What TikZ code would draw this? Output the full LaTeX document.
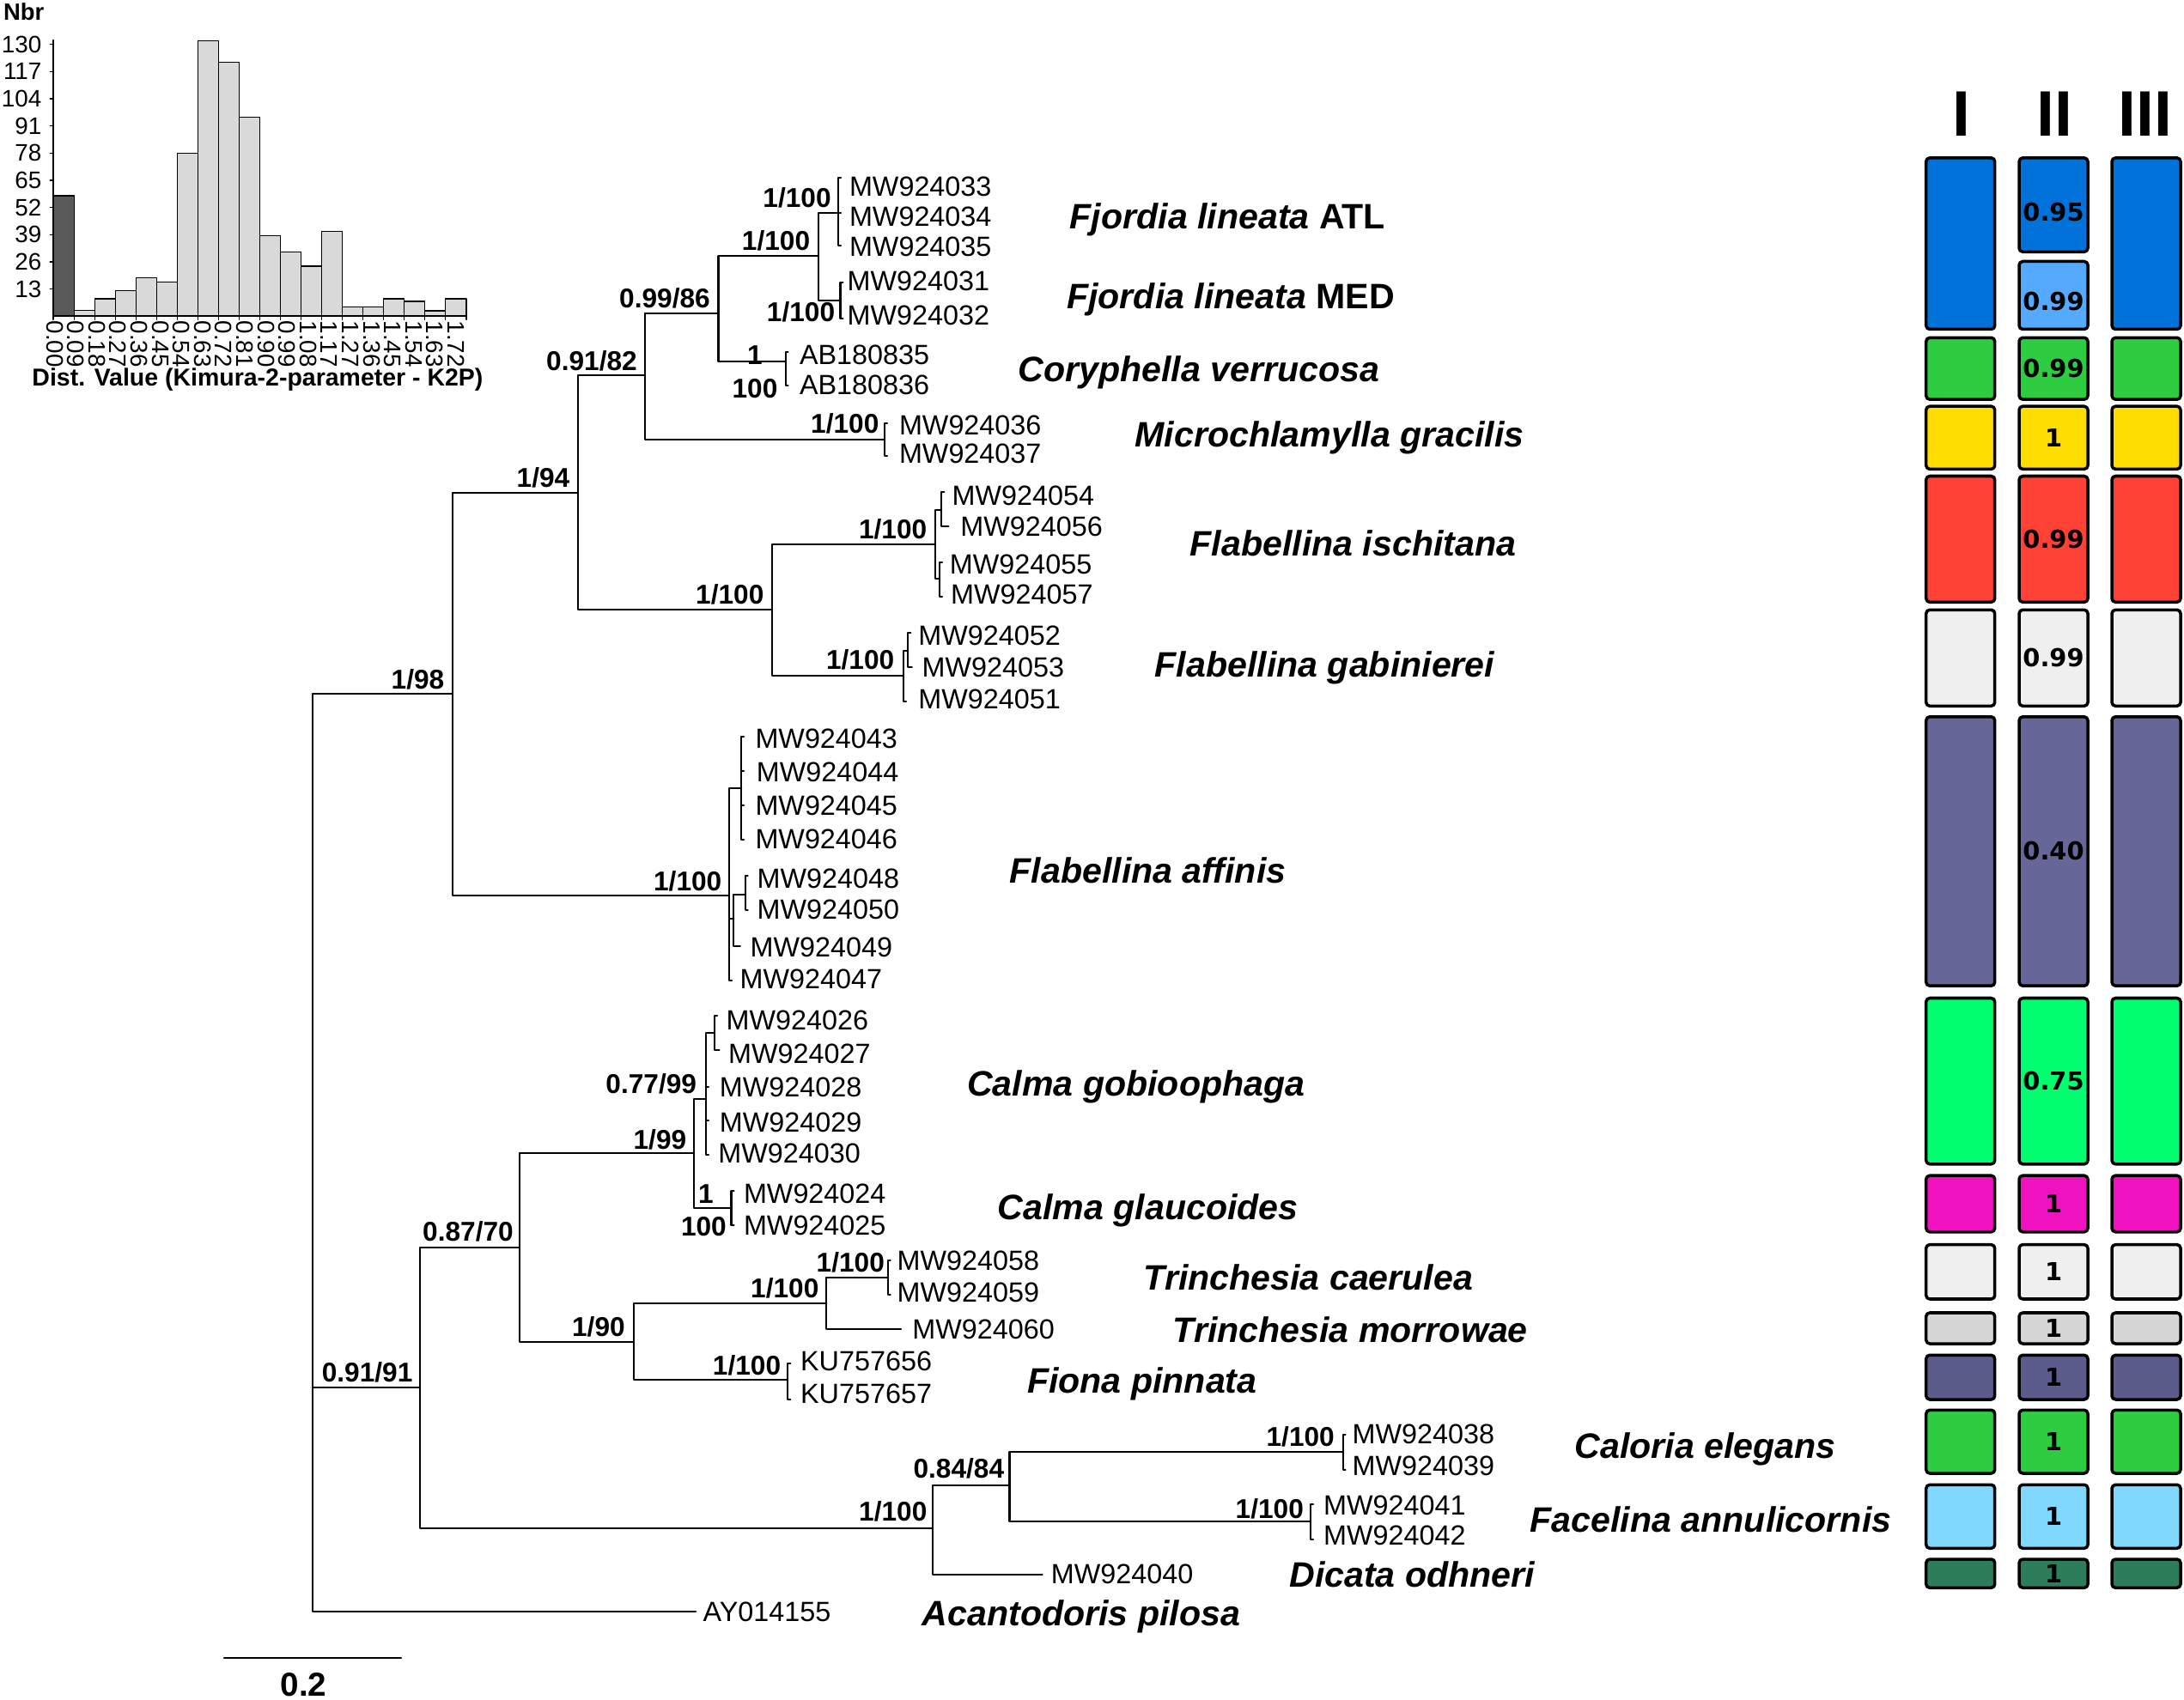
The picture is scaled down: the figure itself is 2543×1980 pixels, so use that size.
\documentclass[tikz,border=0pt]{standalone}
\usepackage{fontspec}
\setmainfont{Liberation Sans}
\newfontfamily\valfont{DejaVu Sans}
\definecolor{cfjo}{RGB}{0,114,218}
\definecolor{cmed}{RGB}{85,170,255}
\definecolor{cgrn}{RGB}{46,204,64}
\definecolor{cyel}{RGB}{255,221,0}
\definecolor{cred}{RGB}{255,65,54}
\definecolor{clgr}{RGB}{239,239,239}
\definecolor{cpur}{RGB}{102,102,153}
\definecolor{cbgr}{RGB}{0,255,110}
\definecolor{cmag}{RGB}{240,18,190}
\definecolor{cgry}{RGB}{214,214,214}
\definecolor{cfio}{RGB}{92,92,140}
\definecolor{clbl}{RGB}{128,216,255}
\definecolor{cdgr}{RGB}{45,125,90}
\definecolor{histlight}{RGB}{217,217,217}
\definecolor{histdark}{RGB}{90,90,90}
\begin{document}
\begin{tikzpicture}[x=0.01cm,y=-0.01cm,line join=round,line cap=round,
	br/.style={line width=0.6pt},
	acc/.style={anchor=west,inner sep=0pt,text height=6.6pt,text depth=0pt,font=\fontsize{9.2}{10}\selectfont},
	sup/.style={inner sep=0pt,text height=6.5pt,text depth=0pt,font=\fontsize{9}{10}\selectfont\bfseries},
	taxon/.style={anchor=west,inner sep=0pt,text height=8.4pt,text depth=0pt,font=\fontsize{11.7}{13}\selectfont\bfseries\itshape},
	box/.style={draw=black,line width=1pt,rounded corners=1.2pt},
	val/.style={inner sep=0pt,font=\valfont\fontsize{8.2}{9}\selectfont\bfseries},
	hbar/.style={draw=black,line width=0.4pt,fill=histlight},
	tick/.style={inner sep=0pt,font=\fontsize{7.9}{8}\selectfont}]
	\useasboundingbox (0,0) rectangle (2543,1980);
	% histogram
	\draw[hbar,fill=histdark] (62.2,368.3) rectangle ++(24.03,-140.3);
	\foreach \h [count=\i] in {6.7,20.3,30,44.7,40,190,321,296,232,94,75,58.3,99,10.7,10.7,20.3,17.3,6.3,20.3}
	\draw[hbar] ({62.2+\i*24.03},368.3) rectangle ++(24.03,-\h);
	\draw[line width=0.6pt] (62.2,47)--(62.2,368.3)--(542.7,368.3);
	\foreach \k/\v in {1/13,2/26,3/39,4/52,5/65,6/78,7/91,8/104,9/117,10/130}{
		\draw (62.2,{368.3-\k*31.67})--(58.2,{368.3-\k*31.67});
		\node[tick,anchor=east] (yt\k) at (49,{368.3-\k*31.67}) {\v};
	}
	\foreach \i in {0,...,20}
	\draw ({62.2+\i*24.03},368.3)--++(0,4);
	\foreach \lab [count=\i from 0] in {0.00,0.09,0.18,0.27,0.36,0.45,0.54,0.63,0.72,0.81,0.90,0.99,1.08,1.17,1.27,1.36,1.45,1.54,1.63,1.72}
	\node[tick,rotate=-90,anchor=west] (xt\i) at ({63.6+\i*24.6},373) {\lab};
	\node[font=\fontsize{7.8}{9}\selectfont\bfseries] (nbr) at (27.7,13.3) {Nbr};
	\node[font=\fontsize{8.1}{9}\selectfont\bfseries] (xlab) at (300,442) {Dist. Value (Kimura-2-parameter - K2P)};
	% tree nodes
	\coordinate (root) at (363.8,1342);
	\coordinate (n98) at (527,807.6);
	\coordinate (n94) at (673,574);
	\coordinate (n82) at (750.8,437.3);
	\coordinate (n86) at (836.5,365);
	\coordinate (nfj) at (952.6,297.7);
	\coordinate (natl) at (975.8,248.3);
	\coordinate (nmed) at (978.5,350);
	\coordinate (ncor) at (914.6,420.7);
	\coordinate (nmic) at (1029.8,511.7);
	\coordinate (nfl) at (899,710);
	\coordinate (nisc) at (1088.7,634.3);
	\coordinate (nisa) at (1096.3,594.3);
	\coordinate (nisb) at (1094,674.3);
	\coordinate (ngab) at (1051.6,786.7);
	\coordinate (ngaa) at (1057.4,758.3);
	\coordinate (naff) at (848.9,1043.3);
	\coordinate (nafa) at (863.2,918.3);
	\coordinate (nafb) at (854.3,1070);
	\coordinate (nafc) at (867.7,1041.7);
	\coordinate (n91) at (489.4,1615.7);
	\coordinate (n70) at (605.1,1453.3);
	\coordinate (n99) at (808.2,1342.7);
	\coordinate (n77) at (821.9,1280);
	\coordinate (ngob) at (832.1,1202.7);
	\coordinate (nglc) at (851.5,1406.7);
	\coordinate (n90) at (737.8,1563.3);
	\coordinate (ntri) at (962.2,1518.3);
	\coordinate (ncae) at (1033.7,1488.3);
	\coordinate (nfio) at (917.3,1607.3);
	\coordinate (nc100) at (1085.7,1780);
	\coordinate (n84) at (1175.5,1730);
	\coordinate (ncal) at (1563.6,1691);
	\coordinate (nfac) at (1526.1,1772.3);
	% tips
	\foreach \n/\x/\y in {33/979/207.3,34/979/248.3,35/979/286,31/981.5/329,32/981.5/370.7,
		AB5/917.6/410,AB6/917.6/449.3,36/1033/492.7,37/1033/530.7,54/1099.3/573.3,56/1104.3/613.3,
		55/1097/655,57/1097/695,52/1060.4/736.7,53/1061.9/776.7,51/1055/816.7,
		43/866.2/858.3,44/866.2/898.3,45/866.2/938.3,46/866.2/978.3,48/870.7/1020,50/870.7/1060,
		49/861.9/1101.7,47/852/1141.7,26/835.1/1182.7,27/837.5/1222.7,28/825/1266,29/825/1305,
		30/825/1345,24/854.5/1386.7,25/854.5/1426.7,58/1036.7/1468.3,59/1036.7/1508.3,60/1049/1548.3,
		KU6/920.3/1588,KU7/920.3/1630,38/1566.6/1670.7,39/1566.6/1711.7,41/1529.1/1751.7,
		42/1529.1/1793.3,40/1213.6/1834,AY/810.2/1876.7}
	\coordinate (t\n) at (\x,\y);
	% branches
	\foreach \p/\c in {root/n98,root/n91,root/tAY,n98/n94,n98/naff,n94/n82,n94/nfl,n82/n86,n82/nmic,
		n86/nfj,n86/ncor,nfj/natl,nfj/nmed,natl/t33,natl/t34,natl/t35,nmed/t31,nmed/t32,
		ncor/tAB5,ncor/tAB6,nmic/t36,nmic/t37,nfl/nisc,nfl/ngab,nisc/nisa,nisc/nisb,
		nisa/t54,nisa/t56,nisb/t55,nisb/t57,ngab/ngaa,ngab/t51,ngaa/t52,ngaa/t53,
		naff/nafa,naff/nafb,naff/t47,nafa/t43,nafa/t44,nafa/t45,nafa/t46,
		nafb/nafc,nafb/t49,nafc/t48,nafc/t50,n91/n70,n91/nc100,n70/n99,n70/n90,
		n99/n77,n99/nglc,n77/ngob,n77/t28,n77/t29,n77/t30,ngob/t26,ngob/t27,
		nglc/t24,nglc/t25,n90/ntri,n90/nfio,ntri/ncae,ntri/t60,ncae/t58,ncae/t59,
		nfio/tKU6,nfio/tKU7,nc100/n84,nc100/t40,n84/ncal,n84/nfac,
		ncal/t38,ncal/t39,nfac/t41,nfac/t42}
	\draw[br] (\p) |- (\c);
	% accessions
	\foreach \n/\x/\y in {MW924033/988.3/216.7,MW924034/988.3/251.7,MW924035/988.3/286.7,
		MW924031/986/326.7,MW924032/986/366.7,AB180835/930.3/413.3,AB180836/930.3/448.3,
		MW924036/1046.3/495,MW924037/1046.3/528.3,MW924054/1107.9/576.7,MW924056/1117.7/612.7,
		MW924055/1105.2/656.7,MW924057/1106.5/691.7,MW924052/1068.6/740,MW924053/1073/776.7,
		MW924051/1068.6/814,MW924043/878.8/860,MW924044/880.2/899,MW924045/878.8/938,
		MW924046/878.8/977,MW924048/881/1023,MW924050/881/1059,MW924049/873/1103,
		MW924047/861/1140,MW924026/844.9/1188.3,MW924027/847.4/1226.7,MW924028/837.2/1266,
		MW924029/837.2/1306.7,MW924030/835.7/1342.7,MW924024/865.3/1390,MW924025/865.3/1426.7,
		MW924058/1043.9/1468.3,MW924059/1043.9/1505,MW924060/1061.7/1548.3,
		KU757656/931.4/1585,KU757657/931.4/1623.3,MW924038/1574/1670,MW924039/1574/1706.7,
		MW924041/1540.5/1753.3,MW924042/1540.5/1788.3,MW924040/1223.2/1833.3,AY014155/817.9/1876.7}
	\node[acc] (a\n) at (\x,\y) {\n};
	% support values
	\foreach \x/\y/\lab [count=\i] in {928/230/{1/100},903.5/280/{1/100},932.5/363/{1/100},
		774/346.7/{0.99/86},879/413.3/1,879/451.7/100,689/420/{0.91/82},983.8/493.3/{1/100},
		632.5/556/{1/94},486.5/791.4/{1/98},849.8/691.7/{1/100},1039.6/616/{1/100},
		1001.6/768.3/{1/100},800.7/1026/{1/100},758.2/1261.7/{0.77/99},768.4/1326.7/{1/99},
		821.9/1390/1,819.4/1428.3/100,545/1433.6/{0.87/70},990.3/1470/{1/100},
		913.8/1500/{1/100},696.9/1545/{1/90},427.6/1598.3/{0.91/91},869.5/1590/{1/100},
		1514.2/1673.3/{1/100},1116.3/1710/{0.84/84},1039.8/1760/{1/100},1478.3/1756.7/{1/100}}
	\node[sup] (s\i) at (\x,\y) {\lab};
	% species
	\node[taxon] (fatl) at (1245,251.4) {Fjordia lineata \textup{ATL}};
	\node[taxon] (fmed) at (1241.5,345.2) {Fjordia lineata \textup{MED}};
	\node[taxon] (cver) at (1184.8,430) {Coryphella verrucosa};
	\node[taxon] (mgra) at (1321,505.9) {Microchlamylla gracilis};
	\node[taxon] (fisc) at (1385,633) {Flabellina ischitana};
	\node[taxon] (fgab) at (1344,773.8) {Flabellina gabinierei};
	\node[taxon] (faff) at (1175,1013.3) {Flabellina affinis};
	\node[taxon] (cgob) at (1125.5,1262.2) {Calma gobioophaga};
	\node[taxon] (cgla) at (1161,1406) {Calma glaucoides};
	\node[taxon] (tcae) at (1331,1487.8) {Trinchesia caerulea};
	\node[taxon] (tmor) at (1365,1549) {Trinchesia morrowae};
	\node[taxon] (fpin) at (1195.4,1607.6) {Fiona pinnata};
	\node[taxon] (cele) at (1833,1683.3) {Caloria elegans};
	\node[taxon] (fann) at (1781,1770) {Facelina annulicornis};
	\node[taxon] (dodh) at (1500.6,1833.3) {Dicata odhneri};
	\node[taxon] (apil) at (1073,1878.3) {Acantodoris pilosa};
	% scale bar
	\coordinate (sb1) at (261,1931);
	\coordinate (sb2) at (467,1931);
	\draw[line width=0.7pt] (sb1)--(sb2);
	\node[font=\fontsize{11}{12}\selectfont\bfseries] (sbl) at (353.5,1962) {0.2};
	% delimitation columns
	\node[font=\fontsize{21.3}{22}\selectfont\bfseries] (hI) at (2283.5,133) {I};
	\node[font=\fontsize{21.3}{22}\selectfont\bfseries] (hII) at (2392,133) {II};
	\node[font=\fontsize{21.3}{22}\selectfont\bfseries] (hIII) at (2497.6,133) {III};
	\draw[box,fill=cfjo] (2242.7,183.9) rectangle (2322.7,383.5);
	\draw[box,fill=cfjo] (2459,183.9) rectangle (2539,383.5);
	\draw[box,fill=cfjo] (2351,183.9) rectangle (2431,293.3);
	\draw[box,fill=cmed] (2351,304.5) rectangle (2431,383.5);
	\node[val] (vatl) at (2391,247.3) {0.95};
	\node[val] (vmed) at (2391,350.9) {0.99};
	\foreach \ya/\yb/\c/\v [count=\i] in {393.3/465.2/cgrn/0.99,473.2/546.4/cyel/1,554.5/701.3/cred/0.99,
		710.3/822.3/clgr/0.99,834.8/1148.2/cpur/0.40,1162.5/1355.8/cbgr/0.75,1369.2/1434.8/cmag/1,
		1449.6/1513/clgr/1,1529/1565/cgry/1,1578.3/1630/cfio/1,1642.3/1716/cgrn/1,
		1729.3/1803.3/clbl/1,1816/1849.3/cdgr/1}{
		\draw[box,fill=\c] (2242.7,\ya) rectangle (2322.7,\yb);
		\draw[box,fill=\c] (2351,\ya) rectangle (2431,\yb);
		\draw[box,fill=\c] (2459,\ya) rectangle (2539,\yb);
		\node[val] (v\i) at (2391,{(\ya+\yb)/2}) {\v};
	}
\end{tikzpicture}
\end{document}
